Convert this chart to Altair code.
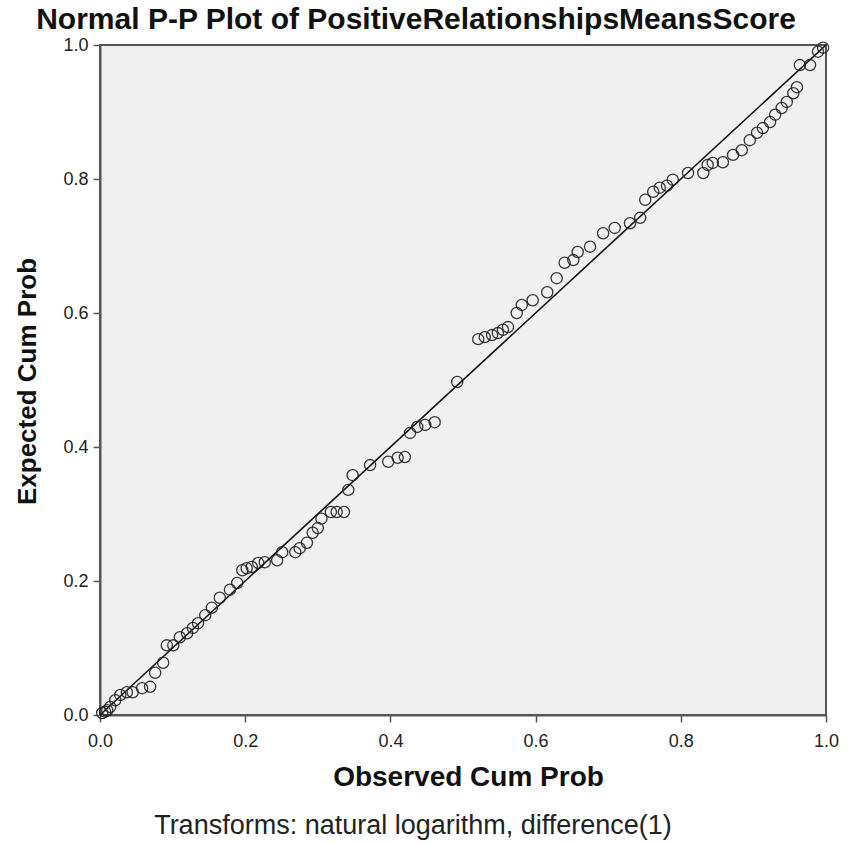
import altair as alt
import pandas as pd

# Observed cumulative probability (x) and expected cumulative probability (y)
observed = [0.003, 0.007, 0.010, 0.014, 0.021, 0.028, 0.037, 0.045, 0.058, 0.069,
            0.076, 0.087, 0.092, 0.101, 0.110, 0.120, 0.128, 0.135, 0.145, 0.154,
            0.165, 0.179, 0.189, 0.196, 0.202, 0.209, 0.218, 0.227, 0.244, 0.251,
            0.269, 0.275, 0.285, 0.293, 0.300, 0.305, 0.318, 0.326, 0.336, 0.342,
            0.348, 0.372, 0.397, 0.410, 0.420, 0.427, 0.437, 0.448, 0.461, 0.492,
            0.521, 0.530, 0.540, 0.548, 0.555, 0.562, 0.574, 0.581, 0.596, 0.616,
            0.629, 0.640, 0.652, 0.658, 0.675, 0.693, 0.709, 0.730, 0.744, 0.751,
            0.762, 0.771, 0.781, 0.789, 0.810, 0.831, 0.837, 0.844, 0.858, 0.872,
            0.884, 0.895, 0.905, 0.913, 0.923, 0.930, 0.939, 0.946, 0.955, 0.960,
            0.964, 0.978, 0.989, 0.996]
expected = [0.003, 0.005, 0.007, 0.012, 0.022, 0.030, 0.034, 0.034, 0.040, 0.042,
            0.063, 0.078, 0.104, 0.104, 0.116, 0.122, 0.130, 0.137, 0.149, 0.160,
            0.175, 0.187, 0.197, 0.216, 0.219, 0.221, 0.227, 0.228, 0.231, 0.243,
            0.243, 0.249, 0.257, 0.272, 0.279, 0.293, 0.303, 0.303, 0.303, 0.336,
            0.358, 0.373, 0.378, 0.384, 0.385, 0.421, 0.430, 0.433, 0.437, 0.497,
            0.561, 0.564, 0.567, 0.570, 0.575, 0.579, 0.600, 0.612, 0.619, 0.631,
            0.652, 0.675, 0.679, 0.691, 0.699, 0.719, 0.727, 0.734, 0.742, 0.769,
            0.781, 0.787, 0.790, 0.799, 0.809, 0.809, 0.821, 0.824, 0.825, 0.836,
            0.843, 0.858, 0.869, 0.876, 0.885, 0.896, 0.906, 0.915, 0.928, 0.937,
            0.970, 0.970, 0.990, 0.996]

# Reference diagonal
line_x = [0.0, 1.0]
line_y = [0.0, 1.0]

tick_values = [0.0, 0.2, 0.4, 0.6, 0.8, 1.0]

title_text = ["Normal P-P Plot of PositiveRelationshipsMeansScore"]
x_title = "Observed Cum Prob"
y_title = "Expected Cum Prob"
footnote = ["Transforms: natural logarithm, difference(1)"]

FONT = "Liberation Sans, Arial, sans-serif"

pts = pd.DataFrame({"obs": observed, "exp": expected})
diag = pd.DataFrame({"obs": line_x, "exp": line_y})
foot = pd.DataFrame({"note": footnote})
ttl = pd.DataFrame({"t": title_text})

x_scale = alt.Scale(domain=[0, 1], nice=False, zero=False)
y_scale = alt.Scale(domain=[0, 1], nice=False, zero=False)

x_axis = alt.Axis(values=tick_values, format=".1f", title=x_title, grid=False,
                  tickSize=7, labelPadding=10, labelFontSize=18, labelFont=FONT,
                  labelColor="#222", titleFont=FONT, titleFontSize=28,
                  titleFontWeight="bold", titleColor="#111",
                  titleBaseline="middle", titleX=368, titleY=62,
                  domainColor="#555", domainWidth=2, tickColor="#555", tickWidth=1.5,
                  labelFlush=False)
y_axis = alt.Axis(values=tick_values, format=".1f", title=y_title, grid=False,
                  tickSize=7, labelPadding=5, labelFontSize=18, labelFont=FONT,
                  labelColor="#222", titleFont=FONT, titleFontSize=26,
                  titleFontWeight="bold", titleColor="#111",
                  titleBaseline="middle", titleX=-73, titleY=336, titleAngle=-90,
                  domainColor="#555", domainWidth=2, tickColor="#555", tickWidth=1.5,
                  labelFlush=False)

points = alt.Chart(pts).mark_point(
    shape="circle", filled=False, size=125, strokeWidth=1.3, color="#222", opacity=0.9
).encode(
    x=alt.X("obs:Q", scale=x_scale, axis=x_axis),
    y=alt.Y("exp:Q", scale=y_scale, axis=y_axis),
)

line = alt.Chart(diag).mark_line(color="#111", strokeWidth=1.6).encode(
    x=alt.X("obs:Q", scale=x_scale),
    y=alt.Y("exp:Q", scale=y_scale),
)

note = alt.Chart(foot).mark_text(
    font=FONT, fontSize=27, color="#222", align="center", baseline="middle"
).encode(
    x=alt.value(313), y=alt.value(781), text="note:N"
)

heading = alt.Chart(ttl).mark_text(
    font=FONT, fontSize=30, fontWeight="bold", color="#111",
    align="center", baseline="middle"
).encode(
    x=alt.value(316), y=alt.value(-25), text="t:N"
)

chart = alt.layer(line, points, note, heading).properties(
    width=726, height=670,
    autosize=alt.AutoSizeParams(type="none"),
    padding={"left": 100, "top": 45, "right": 23, "bottom": 129},
    background="white",
).configure_view(
    fill="#f0f0f0", stroke="#555", strokeWidth=2
)

chart.save("out.html", embed_options={"renderer": "svg", "actions": False})
